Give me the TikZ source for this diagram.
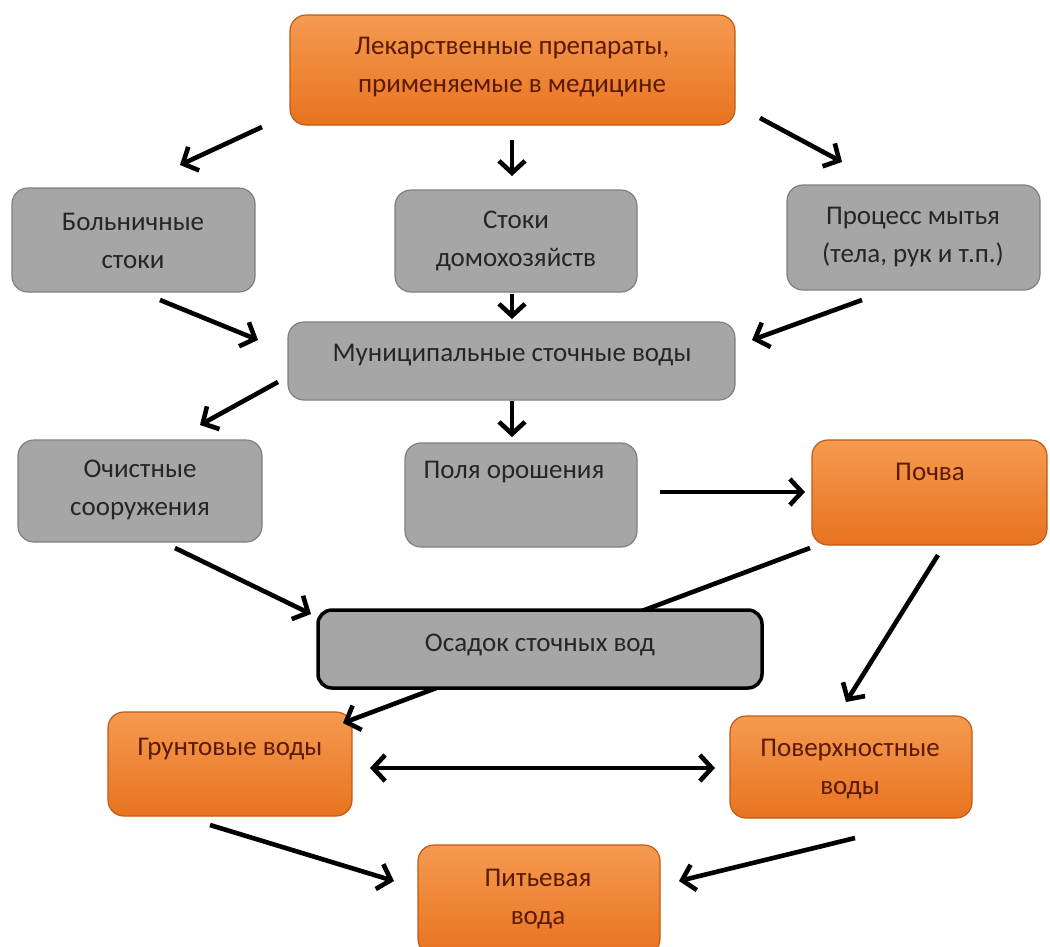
\documentclass[tikz,border=0pt]{standalone}
\usepackage{fontspec}
\setmainfont{Carlito}
\usetikzlibrary{arrows.meta}
\definecolor{gfill}{HTML}{A6A6A6}
\definecolor{gdraw}{HTML}{7F7F7F}
\definecolor{otop}{HTML}{F59A50}
\definecolor{obot}{HTML}{E8731F}
\definecolor{odraw}{HTML}{C05A14}
\definecolor{otext}{HTML}{5A1A05}
\definecolor{gtext}{HTML}{262626}
\tikzset{
  gbox/.style={draw=gdraw, line width=1.2pt, fill=gfill, rounded corners=16pt, inner sep=0pt},
  obox/.style={draw=odraw, line width=1.2pt, top color=otop, bottom color=obot, rounded corners=16pt, inner sep=0pt},
  sbox/.style={draw=black, line width=3.5pt, fill=gfill, rounded corners=14pt, inner sep=0pt},
  gtxt/.style={text=gtext, font=\fontsize{27}{38}\selectfont, align=center, inner sep=0pt},
  otxt/.style={text=otext, font=\fontsize{27}{38}\selectfont, align=center, inner sep=0pt},
  arr/.style={line width=4.6pt, -{Straight Barb[length=12pt,width=26pt]}},
  dbl/.style={line width=4.6pt, {Straight Barb[length=12pt,width=26pt]}-{Straight Barb[length=12pt,width=26pt]}}
}
\begin{document}
\begin{tikzpicture}[x=1pt,y=-1pt]
\useasboundingbox (0,0) rectangle (1050,946);
% boxes
\node[obox, minimum width=445pt, minimum height=110pt] (top) at (512.5,70) {};
\node[gbox, minimum width=243pt, minimum height=104pt] (hosp) at (133.5,240) {};
\node[gbox, minimum width=242pt, minimum height=102pt] (home) at (516,241) {};
\node[gbox, minimum width=253pt, minimum height=105pt] (wash) at (913.5,237.5) {};
\node[gbox, minimum width=447pt, minimum height=78pt] (mun) at (511.5,361) {};
\node[gbox, minimum width=244pt, minimum height=102pt] (clean) at (140,491) {};
\node[gbox, minimum width=232pt, minimum height=104pt] (field) at (521,495) {};
\node[obox, minimum width=235pt, minimum height=105pt] (soil) at (929.5,492.5) {};
\node[obox, minimum width=244pt, minimum height=104pt] (ground) at (230,764) {};
\node[obox, minimum width=242pt, minimum height=102pt] (surf) at (851,767) {};
\node[obox, minimum width=242pt, minimum height=110pt] (drink) at (539,900) {};
% connector endpoints
\coordinate (c1a) at (262,127);  \coordinate (c1b) at (180,165);
\coordinate (c2a) at (512,140);  \coordinate (c2b) at (512,176);
\coordinate (c3a) at (760,118);  \coordinate (c3b) at (842,162);
\coordinate (c4a) at (160,300);  \coordinate (c4b) at (258,340);
\coordinate (c5a) at (512,294);  \coordinate (c5b) at (512,319);
\coordinate (c6a) at (862,300);  \coordinate (c6b) at (752,340);
\coordinate (c7a) at (278,382);  \coordinate (c7b) at (200,425);
\coordinate (c8a) at (512,401);  \coordinate (c8b) at (512,437);
\coordinate (c9a) at (660,492);  \coordinate (c9b) at (805,492);
\coordinate (c10a) at (175,548); \coordinate (c10b) at (311,614);
\coordinate (c11a) at (810,548); \coordinate (c11b) at (343,723);
\coordinate (c12a) at (938,555); \coordinate (c12b) at (846,702);
\coordinate (c13a) at (370,768); \coordinate (c13b) at (715,768);
\coordinate (c14a) at (210,825); \coordinate (c14b) at (394,881);
\coordinate (c15a) at (855,838); \coordinate (c15b) at (679,881);
% line behind sludge box: soil -> groundwater
\draw[arr] (c11a) -- (c11b);
\node[sbox, minimum width=444pt, minimum height=78pt] (sludge) at (540,649) {};
% texts
\node[otxt] (toptx) at (512,67) {Лекарственные препараты,\\применяемые в медицине};
\node[gtxt] (hosptx) at (133,241) {Больничные\\стоки};
\node[gtxt] (hometx) at (516,241) {Стоки\\домохозяйств};
\node[gtxt] (washtx) at (913,237) {Процесс мытья\\(тела, рук и т.п.)};
\node[gtxt] (muntx) at (512,355) {Муниципальные сточные воды};
\node[gtxt] (cleantx) at (140,490) {Очистные\\сооружения};
\node[gtxt] (fieldtx) at (514,472) {Поля орошения};
\node[otxt] (soiltx) at (930,472) {Почва};
\node[gtxt] (sludgetx) at (540,645) {Осадок сточных вод};
\node[otxt] (groundtx) at (230,749) {Грунтовые воды};
\node[otxt] (surftx) at (850,769) {Поверхностные\\воды};
\node[otxt] (drinktx) at (538,899) {Питьевая\\вода};
% connectors
\draw[arr] (c1a) -- (c1b);
\draw[arr] (c2a) -- (c2b);
\draw[arr] (c3a) -- (c3b);
\draw[arr] (c4a) -- (c4b);
\draw[arr] (c5a) -- (c5b);
\draw[arr] (c6a) -- (c6b);
\draw[arr] (c7a) -- (c7b);
\draw[arr] (c8a) -- (c8b);
\draw[arr] (c9a) -- (c9b);
\draw[arr] (c10a) -- (c10b);
\draw[arr] (c12a) -- (c12b);
\draw[dbl] (c13a) -- (c13b);
\draw[arr] (c14a) -- (c14b);
\draw[arr] (c15a) -- (c15b);
\end{tikzpicture}
\end{document}
